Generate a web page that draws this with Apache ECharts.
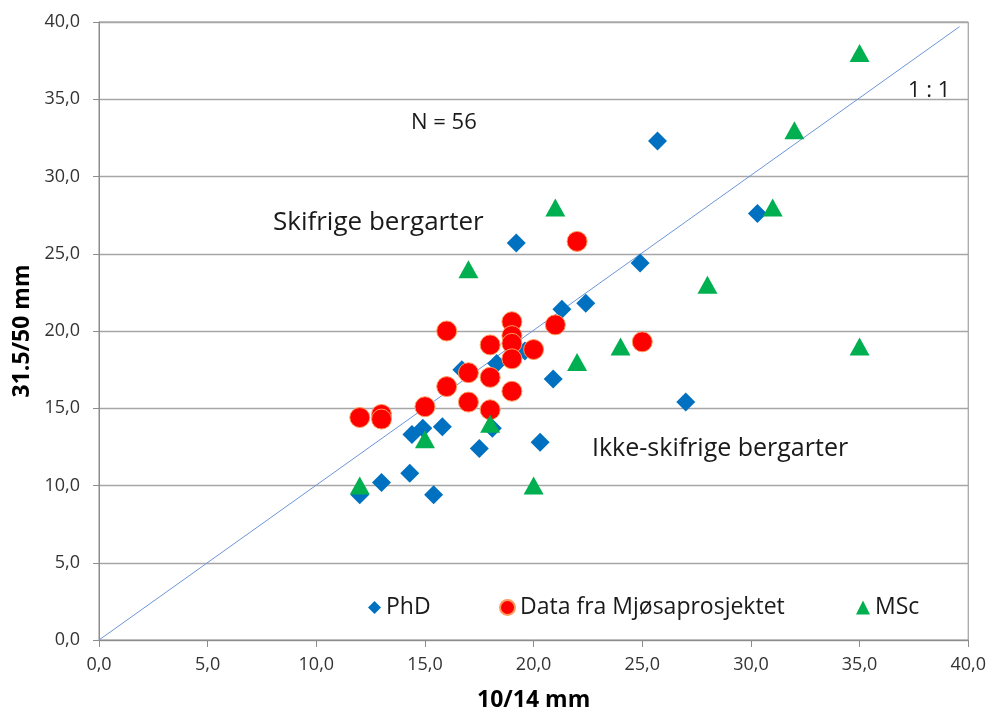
<!DOCTYPE html>
<html><head><meta charset="utf-8">
<script src="https://cdn.jsdelivr.net/npm/echarts@6/dist/echarts.min.js"></script>
<style>html,body{margin:0;padding:0;background:#fff}#c{width:989px;height:717px}</style>
</head><body><div id="c"></div>
<script>
const phd = [[12,9.4],[13,10.2],[14.3,10.8],[15.4,9.4],[14.4,13.3],[14.9,13.7],[15.8,13.8],[16.7,17.5],[17.5,12.4],[18.1,13.7],[18.3,17.9],[19.6,18.7],[20.3,12.8],[20.9,16.9],[21.3,21.4],[22.4,21.8],[24.9,24.4],[27.0,15.4],[25.7,32.3],[19.2,25.7],[30.3,27.6]];
const mjosa = [[12,14.4],[13,14.6],[13,14.3],[15,15.1],[16,20.0],[16,16.4],[17,17.3],[17,15.4],[18,19.1],[18,17.0],[18,14.9],[19,20.6],[19,19.7],[19,19.2],[19,18.2],[19,16.1],[20,18.8],[21,20.4],[22,25.8],[25,19.3]];
const msc = [[35,38],[32,33],[31,28],[21,28],[17,24],[28,23],[24,19],[35,19],[22,18],[18,14],[15,13],[12,10],[20,10]];
const oneToOne = [[0,0],[39.6,39.7]];
const seriesNames = ['PhD','Data fra Mjøsaprosjektet','MSc'];
const xTitle = '10/14 mm', yTitle = '31.5/50 mm';

const font = '"Open Sans", "Noto Sans", sans-serif';
const fmt = v => v.toFixed(1).replace('.', ',');
const legendText = {fontFamily: font, fontSize: 23, color: '#1a1a1a'};
const mkLegend = (name, left, size) => ({data: [name], left: left, top: 596, padding: 0, itemWidth: size, itemHeight: size, itemGap: 0, textStyle: legendText, selectedMode: false});
const chart = echarts.init(document.getElementById('c'));
chart.setOption({
  animation: false,
  grid: {left: 99, right: 19, top: 22, bottom: 74, show: true, borderColor: '#8c8c8c', borderWidth: 1},
  xAxis: {type: 'value', min: 0, max: 40, interval: 5,
    name: xTitle, nameLocation: 'middle', nameGap: 49,
    nameTextStyle: {fontFamily: font, fontSize: 23, fontWeight: 'bold', color: '#000'},
    axisLine: {lineStyle: {color: '#8c8c8c'}}, axisTick: {show: true, length: 7, lineStyle: {color: '#8c8c8c'}},
    axisLabel: {formatter: fmt, fontFamily: font, fontSize: 18, color: '#333', margin: 16},
    splitLine: {show: false}},
  yAxis: {type: 'value', min: 0, max: 40, interval: 5,
    name: yTitle, nameLocation: 'middle', nameGap: 65,
    nameTextStyle: {fontFamily: font, fontSize: 23, fontWeight: 'bold', color: '#000'},
    axisLine: {show: true, lineStyle: {color: '#8c8c8c'}}, axisTick: {show: true, length: 6, lineStyle: {color: '#8c8c8c'}},
    axisLabel: {formatter: fmt, fontFamily: font, fontSize: 18, color: '#333', margin: 19},
    splitLine: {lineStyle: {color: '#a6a6a6', width: 1.3}}},
  legend: [mkLegend(seriesNames[0], 368, 13), mkLegend(seriesNames[1], 499, 15), mkLegend(seriesNames[2], 856, 14)],
  series: [
    {type: 'line', data: oneToOne, symbol: 'none', silent: true, lineStyle: {color: '#6d95d8', width: 1}, z: 1},
    {name: seriesNames[0], type: 'scatter', data: phd, symbol: 'diamond', symbolSize: 19,
      itemStyle: {color: '#0070c0', opacity: 1}, z: 3},
    {name: seriesNames[1], type: 'scatter', data: mjosa, symbol: 'circle', symbolSize: 20,
      itemStyle: {color: '#ff0000', borderColor: '#ff9a5c', borderWidth: 1, opacity: 1}, z: 4},
    {name: seriesNames[2], type: 'scatter', data: msc, symbol: 'triangle', symbolSize: [20, 18],
      itemStyle: {color: '#00b050', opacity: 1}, z: 5}
  ],
  graphic: [
    {type: 'text', left: 411, top: 112, style: {text: 'N = 56', font: '22px ' + font, fill: '#1a1a1a'}},
    {type: 'text', left: 273, top: 210, style: {text: 'Skifrige bergarter', font: '26px ' + font, fill: '#1a1a1a'}},
    {type: 'text', left: 592, top: 436, style: {text: 'Ikke-skifrige bergarter', font: '25px ' + font, fill: '#1a1a1a'}},
    {type: 'text', left: 908, top: 80, style: {text: '1 : 1', font: '22px ' + font, fill: '#1a1a1a'}}
  ]
});
</script></body></html>
